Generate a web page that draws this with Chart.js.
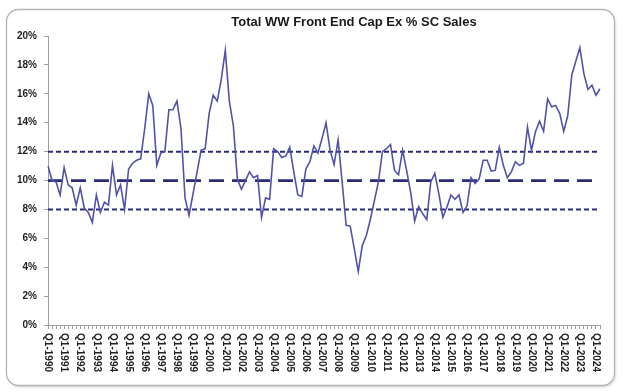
<!DOCTYPE html>
<html>
<head>
<meta charset="utf-8">
<style>
  html, body { margin: 0; padding: 0; background: #ffffff; }
  #wrap { position: relative; width: 623px; height: 392px; }
  canvas { display: block; }
</style>
<script src="https://cdn.jsdelivr.net/npm/chart.js@4.4.1/dist/chart.umd.min.js"></script>
</head>
<body>
<div id="wrap"><canvas id="c" width="623" height="392"></canvas></div>
<script>
// ---- data ----
const chartTitle = "Total WW Front End Cap Ex % SC Sales";
const firstYear = 1990;
const lastYear = 2024;
const quarterNames = ["Q1", "Q2", "Q3", "Q4"];

// Quarterly values (%), Q1-1990 .. Q2-2024
const capexPct = [
  11.0, 10.0, 9.9, 9.0, 10.9, 9.7, 9.5, 8.3, 9.5, 8.1,
  7.8, 7.1, 9.0, 7.8, 8.5, 8.3, 11.05, 9.0, 9.7, 8.0,
  10.8, 11.2, 11.4, 11.5, 13.6, 16.0, 15.2, 11.05, 11.9, 12.0,
  14.9, 14.9, 15.5, 13.6, 8.8, 7.6, 9.1, 10.6, 12.1, 12.2,
  14.65, 15.9, 15.5, 17.0, 19.0, 15.5, 13.8, 10.1, 9.4, 10.0,
  10.6, 10.2, 10.35, 7.45, 8.8, 8.7, 12.2, 12.0, 11.6, 11.7,
  12.3, 10.6, 9.0, 8.9, 10.8, 11.3, 12.4, 11.9, 12.9, 14.0,
  12.1, 11.1, 12.8, 9.9, 6.9, 6.85, 5.3, 3.7, 5.5, 6.2,
  7.3, 8.6, 9.9, 12.0, 12.2, 12.5, 10.7, 10.4, 12.1, 10.7,
  9.2, 7.2, 8.2, 7.7, 7.3, 9.9, 10.5, 9.1, 7.45, 8.15,
  9.0, 8.7, 9.0, 7.8, 8.25, 10.2, 9.8, 10.1, 11.4, 11.4,
  10.65, 10.7, 12.3, 11.05, 10.2, 10.6, 11.3, 11.05, 11.2, 13.7,
  12.1, 13.4, 14.1, 13.4, 15.65, 15.1, 15.2, 14.65, 13.4, 14.5,
  17.3, 18.25, 19.2, 17.4, 16.3, 16.6, 15.9, 16.35
];

// Reference levels (%)
const upperBand = 12;
const averageLevel = 10;
const lowerBand = 8;

// y-axis ticks
const yTicks = [0, 2, 4, 6, 8, 10, 12, 14, 16, 18, 20];

// Category labels (one per quarter)
const quarterLabels = [];
for (let y = firstYear; y <= lastYear; y++) {
  for (const q of quarterNames) {
    if (quarterLabels.length < capexPct.length) quarterLabels.push(q + "-" + y);
  }
}
const firstCat = quarterLabels[0];
const lastCat = quarterLabels[quarterLabels.length - 1];

const FONT = '"Liberation Sans", Arial, sans-serif';

const framePlugin = {
  id: 'frame',
  beforeDraw(chart) {
    const ctx = chart.ctx;
    ctx.save();
    ctx.shadowColor = 'rgba(0,0,0,0.18)';
    ctx.shadowBlur = 3;
    ctx.shadowOffsetX = 1;
    ctx.shadowOffsetY = 1.5;
    ctx.fillStyle = '#ffffff';
    ctx.strokeStyle = '#b5b5b5';
    ctx.lineWidth = 1.3;
    ctx.beginPath();
    ctx.roundRect(6.5, 9.5, 608, 376, 12);
    ctx.fill();
    ctx.shadowColor = 'transparent';
    ctx.stroke();
    ctx.restore();
  },
  afterDraw(chart) {
    const ctx = chart.ctx;
    const xs = chart.scales.x;
    const area = chart.chartArea;
    ctx.save();
    // title
    ctx.fillStyle = '#1a1a1a';
    ctx.font = 'bold 13px ' + FONT;
    ctx.textAlign = 'center';
    ctx.textBaseline = 'alphabetic';
    ctx.fillText(chartTitle, 354, 26);
    // x labels, rotated clockwise (reading downward)
    ctx.font = 'bold 10px ' + FONT;
    ctx.fillStyle = '#222222';
    ctx.textAlign = 'left';
    ctx.textBaseline = 'middle';
    for (let i = 0; i < quarterLabels.length; i += 4) {
      const px = xs.getPixelForValue(i);
      ctx.save();
      ctx.translate(px, area.bottom + 8);
      ctx.rotate(Math.PI / 2);
      ctx.fillText(quarterLabels[i], 0, 0);
      ctx.restore();
    }
    ctx.restore();
  }
};

const refColor = '#2b2b78';

new Chart(document.getElementById('c'), {
  type: 'line',
  data: {
    labels: quarterLabels,
    datasets: [
      {
        data: capexPct,
        borderColor: '#5252a8',
        borderWidth: 1.6,
        pointRadius: 0,
        tension: 0,
        order: 0
      },
      {
        data: [{ x: firstCat, y: upperBand }, { x: lastCat, y: upperBand }],
        borderColor: refColor, borderWidth: 2, borderDash: [5, 3],
        pointRadius: 0, order: 1
      },
      {
        data: [{ x: firstCat, y: averageLevel }, { x: lastCat, y: averageLevel }],
        borderColor: refColor, borderWidth: 2.8, borderDash: [15, 8],
        pointRadius: 0, order: 1
      },
      {
        data: [{ x: firstCat, y: lowerBand }, { x: lastCat, y: lowerBand }],
        borderColor: refColor, borderWidth: 2, borderDash: [5, 3],
        pointRadius: 0, order: 1
      }
    ]
  },
  options: {
    responsive: false,
    devicePixelRatio: 1,
    animation: false,
    events: [],
    layout: { padding: { left: 10, top: 36, right: 23, bottom: 16 } },
    plugins: {
      legend: { display: false },
      title: { display: false },
      tooltip: { enabled: false }
    },
    scales: {
      x: {
        type: 'category',
        offset: false,
        grid: { display: true, drawOnChartArea: false, drawTicks: true, tickLength: 4, color: '#a0a0a0' },
        border: { display: true, color: '#a0a0a0', width: 1 },
        ticks: {
          autoSkip: false,
          minRotation: 90,
          maxRotation: 90,
          padding: 4,
          color: 'rgba(0,0,0,0)',
          font: { family: FONT, size: 10, weight: 'bold' },
          callback: (v, i) => (i % 4 === 0 ? quarterLabels[i] : '')
        }
      },
      y: {
        min: yTicks[0],
        max: yTicks[yTicks.length - 1],
        afterBuildTicks: (s) => { s.ticks = yTicks.map(v => ({ value: v })); },
        grid: { display: true, drawOnChartArea: false, drawTicks: true, tickLength: 4, color: '#a0a0a0' },
        border: { display: true, color: '#a0a0a0', width: 1 },
        ticks: {
          padding: 7,
          color: '#222222',
          font: { family: FONT, size: 10, weight: 'bold' },
          callback: (v) => v + '%'
        }
      }
    }
  },
  plugins: [framePlugin]
});
</script>
</body>
</html>
